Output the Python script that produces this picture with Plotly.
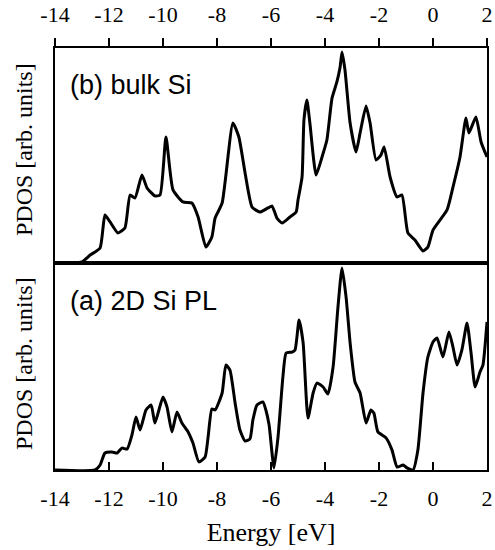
import plotly.graph_objects as go

# (b) bulk Si
energy_bulk = [-14.0, -13.01, -12.70, -12.33, -12.15, -11.96, -11.67, -11.41, -11.22, -11.04,
               -10.78, -10.59, -10.30, -10.11, -9.89, -9.63, -9.26, -8.93, -8.70, -8.41,
               -8.19, -8.07, -7.81, -7.41, -7.19, -6.96, -6.70, -6.41, -6.11, -5.96,
               -5.78, -5.59, -5.30, -5.07, -5.00, -4.85, -4.78, -4.67, -4.56, -4.33,
               -4.11, -3.93, -3.74, -3.56, -3.44, -3.37, -3.26, -3.07, -2.85, -2.70,
               -2.48, -2.33, -2.11, -1.93, -1.81, -1.59, -1.33, -1.15, -0.93, -0.67,
               -0.37, -0.19, 0.0, 0.52, 0.74, 1.0, 1.22, 1.33, 1.59, 1.78, 2.0]
pdos_bulk = [0.0, 0.5, 3.7, 7.0, 22.3, 19.1, 14.0, 16.3, 31.6, 30.2,
             40.9, 34.9, 31.2, 31.6, 58.6, 34.0, 28.4, 27.9, 21.4, 7.4,
             12.1, 20.9, 27.9, 65.1, 58.6, 41.9, 26.0, 23.7, 25.6, 26.5,
             20.9, 18.6, 21.4, 23.7, 29.3, 40.0, 66.5, 75.8, 65.1, 40.9,
             49.3, 57.2, 76.7, 84.2, 91.2, 98.1, 89.8, 65.1, 51.6, 60.5,
             73.0, 65.1, 47.9, 50.2, 54.0, 40.0, 30.7, 31.6, 14.0, 10.7,
             5.6, 7.4, 15.3, 24.7, 35.3, 49.3, 67.4, 60.5, 67.9, 56.3, 49.3]

# (a) 2D Si PL
energy_2d = [-14.0, -12.52, -12.33, -12.15, -11.89, -11.70, -11.52, -11.33, -11.15, -11.0,
             -10.85, -10.63, -10.44, -10.30, -10.15, -10.0, -9.85, -9.67, -9.48, -9.30,
             -9.07, -8.89, -8.67, -8.44, -8.33, -8.19, -8.07, -7.81, -7.67, -7.52,
             -7.33, -7.15, -6.96, -6.78, -6.67, -6.52, -6.30, -6.19, -6.07, -5.89,
             -5.74, -5.56, -5.44, -5.22, -5.11, -4.96, -4.81, -4.63, -4.44, -4.30,
             -4.07, -3.89, -3.70, -3.52, -3.37, -3.22, -3.07, -2.89, -2.70, -2.48,
             -2.30, -2.19, -2.04, -1.74, -1.52, -1.33, -1.11, -0.96, -0.74, -0.56,
             -0.37, -0.19, 0.0, 0.15, 0.37, 0.59, 0.74, 0.89, 1.07, 1.26,
             1.41, 1.56, 1.74, 1.85, 2.0]
pdos_2d = [0.0, 0.0, 2.4, 8.2, 8.7, 8.2, 10.6, 10.1, 16.9, 25.6,
           19.3, 29.0, 31.4, 22.7, 29.0, 35.3, 30.4, 18.4, 28.0, 22.7,
           18.4, 13.0, 3.9, 6.3, 15.9, 29.5, 29.0, 37.2, 50.7, 48.3,
           32.4, 19.3, 14.0, 15.0, 24.2, 31.4, 32.9, 29.0, 21.7, 1.0,
           15.9, 44.9, 56.5, 57.0, 58.0, 72.5, 61.4, 25.1, 37.2, 42.0,
           40.1, 36.7, 49.8, 78.7, 97.6, 83.6, 61.4, 42.5, 37.2, 22.7,
           29.0, 27.5, 18.4, 15.5, 9.7, 1.4, 2.4, 1.0, 0.0, 9.7,
           37.2, 54.6, 61.8, 63.8, 54.6, 66.7, 59.4, 50.7, 58.0, 71.0,
           56.5, 40.1, 47.3, 50.7, 71.5]

tick_vals = [-14, -12, -10, -8, -6, -4, -2, 0, 2]
tick_text = ["-14", "-12", "-10", "-8", "-6", "-4", "-2", "0", "2"]

x_label = "Energy [eV]"
y_label = "PDOS [arb. units]"
label_bulk = "(b) bulk Si"
label_2d = "(a) 2D Si PL"

serif = "Liberation Serif, Times New Roman, serif"
sans = "Liberation Sans, Arial, sans-serif"

line_style = dict(color="black", width=3, shape="spline", smoothing=0.5)

fig = go.Figure()
fig.add_trace(go.Scatter(x=energy_2d, y=pdos_2d, xaxis="x", yaxis="y", mode="lines",
                         line=line_style, showlegend=False, cliponaxis=True))
fig.add_trace(go.Scatter(x=energy_bulk, y=pdos_bulk, xaxis="x2", yaxis="y2", mode="lines",
                         line=line_style, showlegend=False, cliponaxis=True))

split = (470 - 263) / 422

common_x = dict(range=[-14, 2], tickmode="array", tickvals=tick_vals, ticktext=tick_text,
                ticklen=8, tickwidth=2,
                tickcolor="black", showline=True, linewidth=2, linecolor="black", mirror=True,
                showgrid=False, zeroline=False, automargin=False,
                tickfont=dict(family=serif, size=22, color="black"))
common_y = dict(range=[0, 100], showticklabels=False, ticks="", showline=True, linewidth=2,
                linecolor="black", mirror=True, showgrid=False, zeroline=False, automargin=False)

fig.update_layout(
    template="none",
    width=495, height=550,
    margin=dict(l=55, r=8, t=48, b=80, autoexpand=False),
    paper_bgcolor="white", plot_bgcolor="white",
    xaxis=dict(domain=[0, 1], anchor="y", ticks="inside", ticklabelstandoff=8,
               title=dict(text=x_label, font=dict(family=serif, size=26, color="black"), standoff=12),
               **common_x),
    xaxis2=dict(domain=[0, 1], anchor="y2", side="top", ticks="outside", matches="x",
                ticklabelstandoff=7, **common_x),
    yaxis=dict(domain=[0, split], anchor="x", **common_y),
    yaxis2=dict(domain=[split, 1], anchor="x2", **common_y),
    annotations=[
        dict(text=y_label, xref="paper", yref="paper", x=(24 - 55) / 432, y=(470 - 150) / 422,
             textangle=-90, showarrow=False, xanchor="center", yanchor="middle",
             font=dict(family=serif, size=24, color="black")),
        dict(text=y_label, xref="paper", yref="paper", x=(24 - 55) / 432, y=(470 - 364) / 422,
             textangle=-90, showarrow=False, xanchor="center", yanchor="middle",
             font=dict(family=serif, size=24, color="black")),
        dict(text=label_bulk, xref="paper", yref="paper", x=(68 - 55) / 432, y=(470 - 85) / 422,
             showarrow=False, xanchor="left", yanchor="middle",
             font=dict(family=sans, size=27, color="black")),
        dict(text=label_2d, xref="paper", yref="paper", x=(68 - 55) / 432, y=(470 - 301) / 422,
             showarrow=False, xanchor="left", yanchor="middle",
             font=dict(family=sans, size=27, color="black")),
    ],
)

fig.write_html("out.html", config={"displayModeBar": False},
               post_script="document.body.style.margin='0px';document.body.style.overflow='hidden';")
